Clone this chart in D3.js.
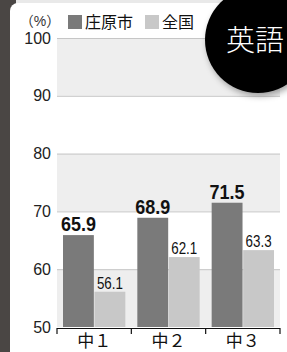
<!DOCTYPE html>
<html><head><meta charset="utf-8">
<script src="https://cdn.jsdelivr.net/npm/d3@7"></script>
<style>
html,body{margin:0;padding:0;background:#e9e9e9;overflow:hidden}
text{font-family:"Liberation Sans",Arial,"Noto Sans CJK JP",sans-serif}
.cjk{font-family:"Noto Sans CJK JP",sans-serif}
</style></head>
<body>
<script>
const categories = ["中１", "中２", "中３"];
const seriesNames = ["庄原市", "全国"];
const shobaraValues = [65.9, 68.9, 71.5];
const nationalValues = [56.1, 62.1, 63.3];
const yTicks = [50, 60, 70, 80, 90, 100];
const subjectTitle = "英語";
const unitLabel = "（%）";

const W = 287, H = 352;
const svg = d3.select("body").append("svg").attr("width", W).attr("height", H);

// background pieces
svg.append("rect").attr("x", 0).attr("y", 0).attr("width", W).attr("height", H).attr("fill", "#e9e9e9");
svg.append("rect").attr("x", 0).attr("y", 0).attr("width", 16).attr("height", H).attr("fill", "#4a4644");
svg.append("rect").attr("x", 10).attr("y", 3).attr("width", 320).attr("height", 400).attr("rx", 8).attr("fill", "#ffffff");

const colors = {"庄原市": "#7a7a7a", "全国": "#c8c8c8"};

const y = d3.scaleLinear().domain([50, 100]).range([327, 38]);
const x0 = d3.scaleBand().domain(categories).range([57, 280]).padding(0);
const x1 = d3.scaleBand().domain(seriesNames).range([6, x0.bandwidth() - 6]).paddingInner(0.02);

// alternating bands
const bands = [[90, 100], [70, 80], [50, 60]];
svg.selectAll("rect.band").data(bands).enter().append("rect")
  .attr("x", 57).attr("width", 223)
  .attr("y", d => y(d[1])).attr("height", d => y(d[0]) - y(d[1]))
  .attr("fill", "#eeeeee");

// gridlines
svg.selectAll("line.grid").data(yTicks.filter(t => t > 50)).enter().append("line")
  .attr("x1", 57).attr("x2", 280)
  .attr("y1", d => y(d) + 0.5).attr("y2", d => y(d) + 0.5)
  .attr("stroke", "#c6c6c6").attr("stroke-width", 1);

// y axis labels
const yAxis = d3.axisLeft(y).tickValues(yTicks).tickSize(0).tickPadding(0);
const gy = svg.append("g").attr("transform", "translate(51,0)").call(yAxis);
gy.select(".domain").remove();
gy.selectAll("text").attr("font-size", 16).attr("fill", "#222").attr("font-family", "'Liberation Sans',Arial,sans-serif");

// bars
const rows = categories.map((c, i) => ({cat: c, vals: [
  {s: "庄原市", v: shobaraValues[i]}, {s: "全国", v: nationalValues[i]}]}));
const g = svg.selectAll("g.cat").data(rows).enter().append("g")
  .attr("transform", d => `translate(${x0(d.cat)},0)`);
g.selectAll("rect").data(d => d.vals).enter().append("rect")
  .attr("x", d => x1(d.s)).attr("width", x1.bandwidth())
  .attr("y", d => y(d.v)).attr("height", d => y(50) - y(d.v))
  .attr("fill", d => colors[d.s]);

// value labels
g.selectAll("text.val").data(d => d.vals).enter().append("text")
  .attr("x", d => x1(d.s) + x1.bandwidth() / 2)
  .attr("y", d => y(d.v) - (d.s === "庄原市" ? 4 : 3))
  .attr("text-anchor", "middle")
  .attr("font-size", d => d.s === "庄原市" ? 20 : 16)
  .attr("font-weight", d => d.s === "庄原市" ? "bold" : "normal")
  .attr("textLength", d => d.s === "庄原市" ? 35 : 26)
  .attr("lengthAdjust", "spacingAndGlyphs")
  .attr("fill", "#111")
  .text(d => d.v.toFixed(1));

// x axis
svg.append("line").attr("x1", 57).attr("x2", 280).attr("y1", 328.5).attr("y2", 328.5)
  .attr("stroke", "#111").attr("stroke-width", 1.2);
const bounds = categories.map(c => x0(c)).concat([x0(categories[categories.length - 1]) + x0.bandwidth()]);
svg.selectAll("line.tick").data(bounds).enter().append("line")
  .attr("x1", d => d).attr("x2", d => d).attr("y1", 328).attr("y2", 334)
  .attr("stroke", "#111").attr("stroke-width", 1.2);
const xAxis = d3.axisBottom(x0).tickSize(0).tickPadding(0);
const gx = svg.append("g").attr("transform", "translate(0,334)").call(xAxis);
gx.select(".domain").remove();
gx.selectAll("text").attr("font-size", 17).attr("fill", "#111").attr("class", "cjk")
  .attr("font-family", "'Noto Sans CJK JP',sans-serif").attr("dy", "0.78em");

// legend
svg.append("text").attr("x", 40).attr("y", 21).attr("text-anchor", "middle")
  .attr("dominant-baseline", "central").attr("font-size", 14).attr("fill", "#333")
  .attr("font-family", "'Noto Sans CJK JP',sans-serif").text(unitLabel);
const legX = [68, 145];
const lg = svg.selectAll("g.leg").data(seriesNames).enter().append("g")
  .attr("transform", (d, i) => `translate(${legX[i]},15)`);
lg.append("rect").attr("width", 14).attr("height", 14).attr("fill", d => colors[d]);
lg.append("text").attr("x", 17).attr("y", 7.5).attr("dominant-baseline", "central")
  .attr("font-size", 16).attr("fill", "#111")
  .attr("font-family", "'Noto Sans CJK JP',sans-serif").text(d => d);

// title circle
const defs = svg.append("defs");
const f = defs.append("filter").attr("id", "sh").attr("x", "-30%").attr("y", "-30%").attr("width", "160%").attr("height", "160%");
f.append("feDropShadow").attr("dx", 2).attr("dy", 3).attr("stdDeviation", 3).attr("flood-color", "#000").attr("flood-opacity", 0.35);
svg.append("circle").attr("cx", 258).attr("cy", 40).attr("r", 53).attr("fill", "#000").attr("filter", "url(#sh)");
svg.append("text").attr("x", 255).attr("y", 41).attr("text-anchor", "middle")
  .attr("dominant-baseline", "central").attr("font-size", 29).attr("fill", "#fff")
  .attr("font-family", "'Noto Sans CJK JP',sans-serif").attr("font-weight", 300)
  .text(subjectTitle);
</script>
</body></html>
